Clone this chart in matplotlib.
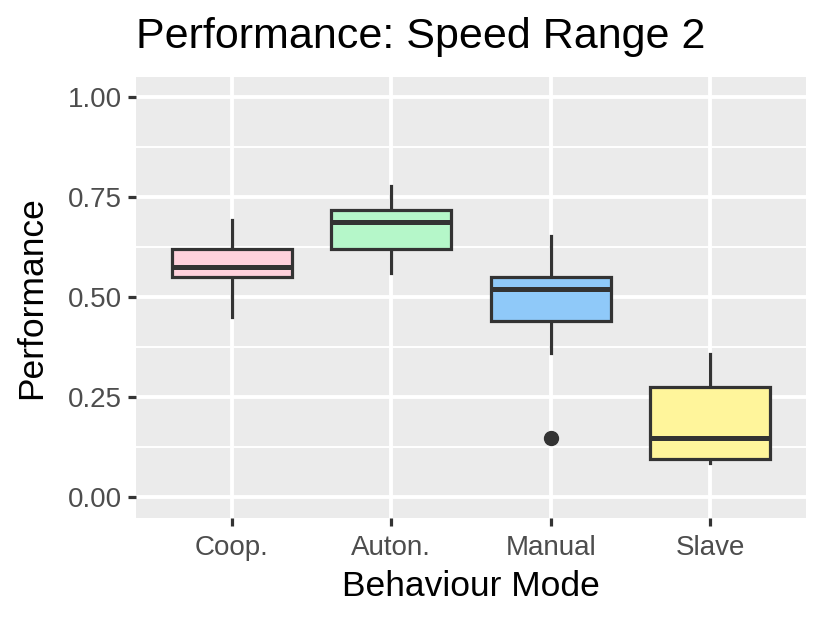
import matplotlib.pyplot as plt

# Behaviour modes and box statistics
modes = ['Coop.', 'Auton.', 'Manual', 'Slave']
whisker_low = [0.451, 0.559, 0.359, 0.086]
q1 = [0.551, 0.619, 0.441, 0.096]
median = [0.576, 0.688, 0.519, 0.148]
q3 = [0.619, 0.717, 0.549, 0.276]
whisker_high = [0.693, 0.778, 0.653, 0.357]
outliers = [[], [], [0.148], []]
fill_colors = ['#FFD1DC', '#B5F7C9', '#8FC9F9', '#FFF59B']

plt.rcParams['font.family'] = ['Liberation Sans', 'DejaVu Sans']

fig = plt.figure(figsize=(8.22, 6.18), dpi=100)
ax = fig.add_axes([136 / 822, 100 / 618, 670 / 822, 441 / 618])
ax.set_facecolor('#EBEBEB')

stats = []
for i, m in enumerate(modes):
    stats.append({'label': m, 'whislo': whisker_low[i], 'q1': q1[i], 'med': median[i],
                  'q3': q3[i], 'whishi': whisker_high[i], 'fliers': outliers[i]})

pos = list(range(1, len(modes) + 1))
line_col = '#333333'
bp = ax.bxp(stats, positions=pos, widths=0.75, patch_artist=True, showcaps=False,
            boxprops=dict(edgecolor=line_col, linewidth=2.3),
            whiskerprops=dict(color=line_col, linewidth=2.3),
            medianprops=dict(color=line_col, linewidth=3.6, solid_capstyle='butt'),
            flierprops=dict(marker='o', markerfacecolor=line_col, markeredgecolor=line_col,
                            markersize=10))
for patch, c in zip(bp['boxes'], fill_colors):
    patch.set_facecolor(c)
    patch.set_zorder(3)
for w in bp['whiskers']:
    w.set_zorder(2)
for med in bp['medians']:
    med.set_zorder(4)

ax.set_xlim(0.4, 4.6)
ax.set_ylim(-0.0525, 1.05)
ax.set_yticks([0, 0.25, 0.5, 0.75, 1.0])
ax.set_yticklabels(['0.00', '0.25', '0.50', '0.75', '1.00'])
ax.set_yticks([0.125, 0.375, 0.625, 0.875], minor=True)
ax.set_xticks(pos)
ax.set_xticklabels(modes)

ax.grid(True, which='major', color='white', linewidth=2.8)
ax.grid(True, which='minor', axis='y', color='white', linewidth=1.4)
ax.set_axisbelow(True)
for s in ax.spines.values():
    s.set_visible(False)

ax.tick_params(axis='both', which='major', length=6, width=2.3, color=line_col,
               labelsize=20, labelcolor='#4D4D4D', pad=4)
ax.tick_params(axis='x', which='major', pad=6)
ax.tick_params(axis='y', which='minor', length=0)

ax.set_xlabel('Behaviour Mode', fontsize=25.5, labelpad=7)
ax.set_ylabel('Performance', fontsize=25.5, labelpad=14)
ax.set_title('Performance: Speed Range 2', fontsize=31, loc='left', pad=21)

fig.savefig('out.png', dpi=100)
